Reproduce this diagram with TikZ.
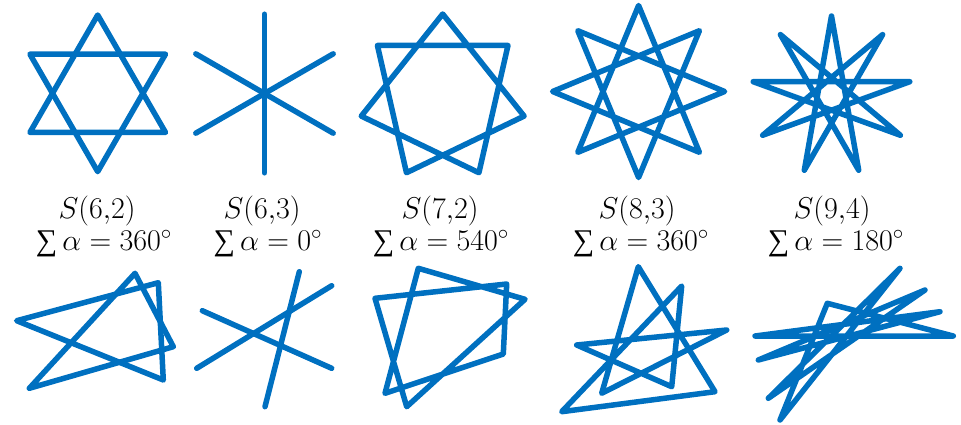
\documentclass[tikz,border=0pt]{standalone}
\usepackage{fontspec}
\newfontfamily\sumfont{Liberation Serif}
\usetikzlibrary{calc}
\definecolor{starblue}{RGB}{0,112,192}
\newcommand\mystar[7]{% cx, cy, R, n, k, n-1, start angle
  \draw[starline] ($(#1,#2)+(#7:#3)$)
    \foreach \i in {1,...,#6}{ -- ($(#1,#2)+({#7+360*#5*\i/#4}:#3)$) } -- cycle;}
\newcommand\bigsum{\mathop{\hbox{\sumfont ∑}}}
\begin{document}
\begin{tikzpicture}[x=1pt,y=-1pt,
  starline/.style={draw=starblue, line width=5.5pt, line cap=round, line join=round},
  lab/.style={inner sep=0pt, anchor=base, scale=1.45, transform shape, font=\huge}]
\useasboundingbox (0,0) rectangle (961,424);
% ---- top row: regular star polygons ----
% S(6,2)
\mystar{97.7}{93.3}{78.3}{3}{1}{2}{-90}
\mystar{97.7}{93.3}{78.3}{3}{1}{2}{90}
% S(6,3)
\foreach \a in {-90,-30,30}
  \draw[starline] ($(264.5,93.5)+(\a:79.3)$) -- ($(264.5,93.5)+(\a+180:79.3)$);
% S(7,2)
\mystar{442.7}{97.5}{83.5}{7}{2}{6}{-90}
% S(8,3)
\mystar{638.6}{91.5}{86}{8}{3}{7}{-90}
% S(9,4)
\mystar{831.5}{95.5}{79.5}{9}{4}{8}{-90}
% ---- labels ----
\node[lab] (t1) at (97,218) {$S(6{,}2)$};
\node[lab] (b1) at (104,250) {$\bigsum\alpha = 360^\circ$};
\node[lab] (t2) at (262,218) {$S(6{,}3)$};
\node[lab] (b2) at (268,250) {$\bigsum\alpha = 0^\circ$};
\node[lab] (t3) at (440,218) {$S(7{,}2)$};
\node[lab] (b3) at (441,250) {$\bigsum\alpha = 540^\circ$};
\node[lab] (t4) at (637,218) {$S(8{,}3)$};
\node[lab] (b4) at (641,250) {$\bigsum\alpha = 360^\circ$};
\node[lab] (t5) at (832,218) {$S(9{,}4)$};
\node[lab] (b5) at (836,250) {$\bigsum\alpha = 180^\circ$};
% ---- bottom row: irregular versions ----
% S(6,2)
\draw[starline] (135,273.3) -- (173.3,346.7) -- (29.3,388.3) -- cycle;
\draw[starline] (158.3,282.7) -- (163.3,380) -- (16.7,320.7) -- cycle;
% S(6,3)
\draw[starline] (299.3,271.7) -- (265,406.7);
\draw[starline] (331.7,285.7) -- (196.7,368.3);
\draw[starline] (202.3,310.7) -- (331.7,368.3);
% S(7,2)
\draw[starline] (418.3,268.3) -- (525,299.3) -- (406.7,406.7) -- (375,298.3)
  -- (506.7,284) -- (503.3,354) -- (385,393.3) -- cycle;
% S(8,3)
\draw[starline] (638.3,266.7) -- (715,391.7) -- (561.7,411.7) -- (681.7,286)
  -- (671.7,386.7) -- (576.7,345) -- (726.7,330) -- (601.7,393.3) -- cycle;
% S(9,4)
\draw[starline] (900,268.3) -- (780,420) -- (827.3,303.3) -- (953.3,336)
  -- (755,336) -- (940,311.7) -- (758.3,360) -- (925,290) -- (768.3,398.3) -- cycle;
\end{tikzpicture}
\end{document}
